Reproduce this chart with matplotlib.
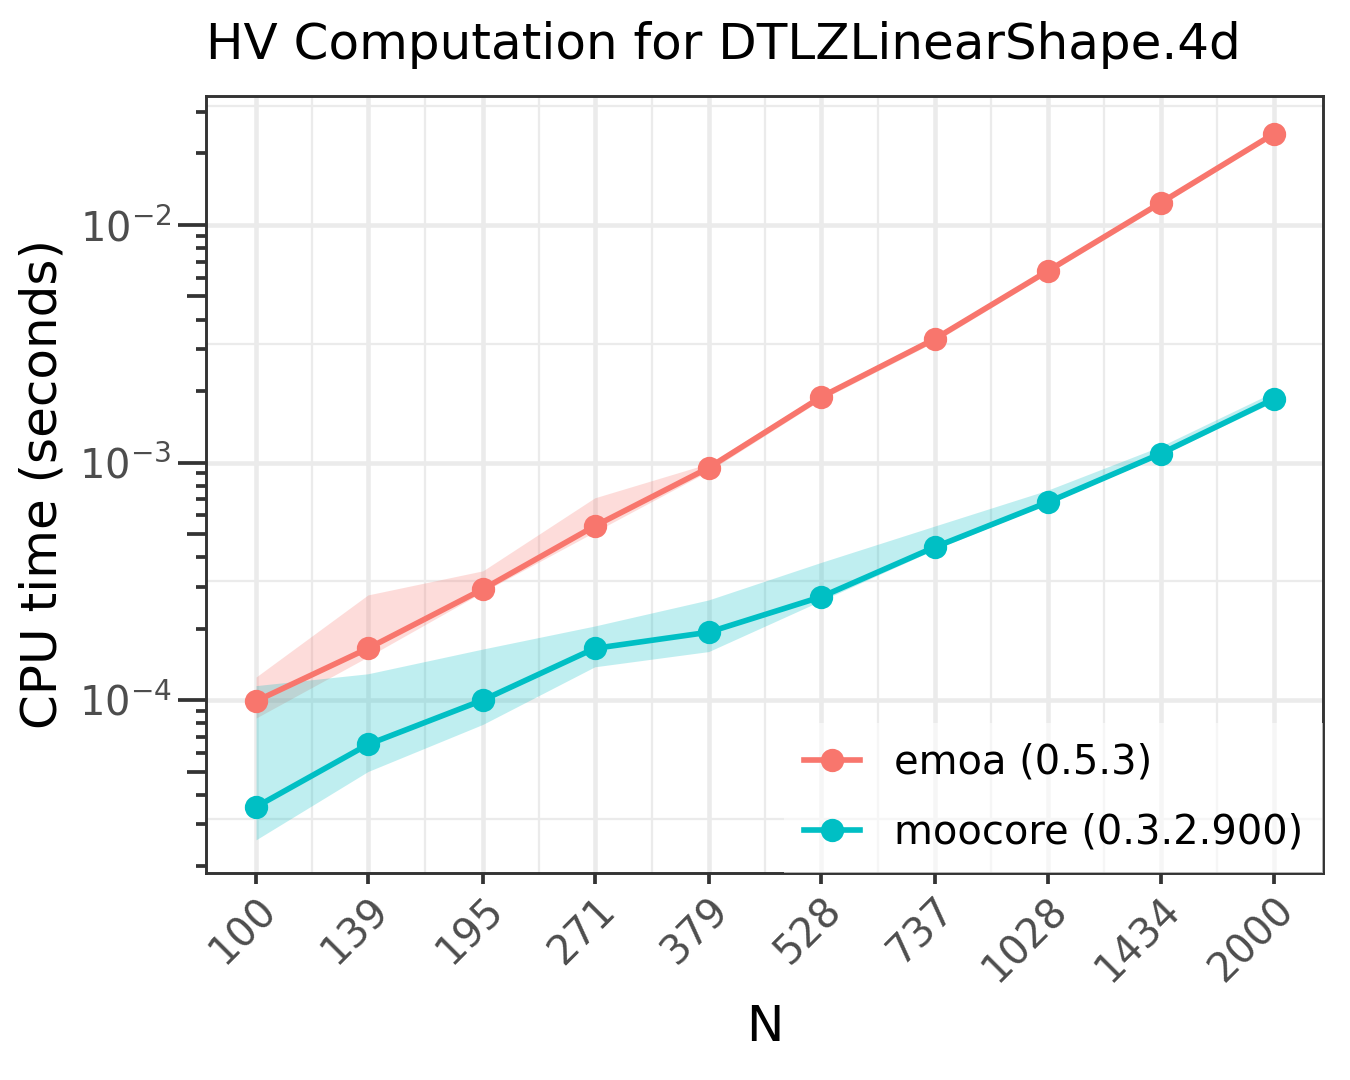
import numpy as np
from matplotlib import pyplot as plt
from matplotlib import ticker

# data
N = [100, 139, 195, 271, 379, 528, 737, 1028, 1434, 2000]

emoa_med = [9.9e-5, 1.65e-4, 2.93e-4, 5.4e-4, 9.5e-4, 1.89e-3, 3.31e-3, 6.4e-3, 1.24e-2, 2.42e-2]
emoa_lo = [8.4e-5, 1.52e-4, 2.85e-4, 5.1e-4, 9.2e-4, 1.84e-3, 3.22e-3, 6.25e-3, 1.21e-2, 2.37e-2]
emoa_hi = [1.25e-4, 2.77e-4, 3.5e-4, 7.1e-4, 9.9e-4, 1.95e-3, 3.42e-3, 6.6e-3, 1.28e-2, 2.48e-2]

moo_med = [3.55e-5, 6.5e-5, 1.0e-4, 1.65e-4, 1.93e-4, 2.72e-4, 4.4e-4, 6.8e-4, 1.09e-3, 1.85e-3]
moo_lo = [2.58e-5, 5.0e-5, 7.9e-5, 1.38e-4, 1.6e-4, 2.62e-4, 4.3e-4, 6.7e-4, 1.07e-3, 1.8e-3]
moo_hi = [1.15e-4, 1.29e-4, 1.64e-4, 2.05e-4, 2.64e-4, 3.8e-4, 5.4e-4, 7.65e-4, 1.17e-3, 1.98e-3]

labels = ['emoa (0.5.3)', 'moocore (0.3.2.900)']
colors = ['#F8766D', '#00BFC4']

plt.rcParams['font.family'] = ['DejaVu Sans']

fig = plt.figure(figsize=(4.5, 3.6), dpi=300)
ax = fig.add_axes([0.1526, 0.1917, 0.8274, 0.7194])

series = [(emoa_med, emoa_lo, emoa_hi), (moo_med, moo_lo, moo_hi)]
for (med, lo, hi), lab, col in zip(series, labels, colors):
    ax.fill_between(N, lo, hi, color=col, alpha=0.25, linewidth=0, zorder=2)
    ax.plot(N, med, color=col, lw=1.35, marker='o', ms=4.6, label=lab, zorder=3)

ax.set_xscale('log')
ax.set_yscale('log')
ax.set_xlim(10 ** 1.936, 10 ** 3.364)
ax.set_ylim(10 ** -4.728, 10 ** -1.457)

ax.xaxis.set_major_locator(ticker.FixedLocator(N))
ax.xaxis.set_major_formatter(ticker.FixedFormatter([str(n) for n in N]))
ax.xaxis.set_minor_locator(ticker.NullLocator())

ax.yaxis.set_major_locator(ticker.LogLocator(base=10, numticks=10))
ax.yaxis.set_major_formatter(ticker.LogFormatterSciNotation())
ax.yaxis.set_minor_locator(ticker.LogLocator(base=10, subs=[2, 3, 4, 6, 7, 8, 9], numticks=20))
ax.yaxis.set_minor_formatter(ticker.NullFormatter())

# grid lines in ggplot style
grid = '#EBEBEB'
ax.grid(True, which='major', color=grid, lw=1.1, zorder=0)
for a, b in zip(N[:-1], N[1:]):
    ax.axvline(np.sqrt(a * b), color=grid, lw=0.55, zorder=0)
for k in range(-5, -1):
    ax.axhline(10 ** (k + 0.5), color=grid, lw=0.55, zorder=0)
ax.set_axisbelow(True)

ax.tick_params(axis='x', which='major', length=2.6, width=0.9, color='#333333',
               labelsize=9.6, labelcolor='#4D4D4D', pad=1.5)
ax.tick_params(axis='y', which='major', length=6.7, width=0.9, color='#333333',
               labelsize=9.6, labelcolor='#4D4D4D', pad=1.5)
ax.tick_params(axis='y', which='minor', length=2.4, width=0.9, color='#333333')
plt.setp(ax.get_xticklabels(), rotation=45, ha='right', va='top', rotation_mode='anchor')

# medium ticks at 5 x 10^k
sec = ax.secondary_yaxis('left')
sec.yaxis.set_major_locator(ticker.LogLocator(base=10, subs=[5], numticks=20))
sec.yaxis.set_major_formatter(ticker.NullFormatter())
sec.yaxis.set_minor_locator(ticker.NullLocator())
sec.tick_params(axis='y', length=4.6, width=0.9, color='#333333')
sec.spines['left'].set_visible(False)

for s in ax.spines.values():
    s.set_color('#333333')
    s.set_linewidth(0.7)

ax.set_xlabel('N', fontsize=12, labelpad=3)
ax.set_ylabel('CPU time (seconds)', fontsize=12, labelpad=3)
ax.set_title('HV Computation for DTLZLinearShape.4d', fontsize=12, loc='left', pad=9)

leg = ax.legend(loc='lower right', fontsize=9.6, frameon=True, facecolor='white',
                edgecolor='none', framealpha=0.6, fancybox=False, borderaxespad=0,
                borderpad=0.5, handlelength=1.4, handletextpad=0.85, labelspacing=0.75)

fig.savefig('out.png', dpi=300)
